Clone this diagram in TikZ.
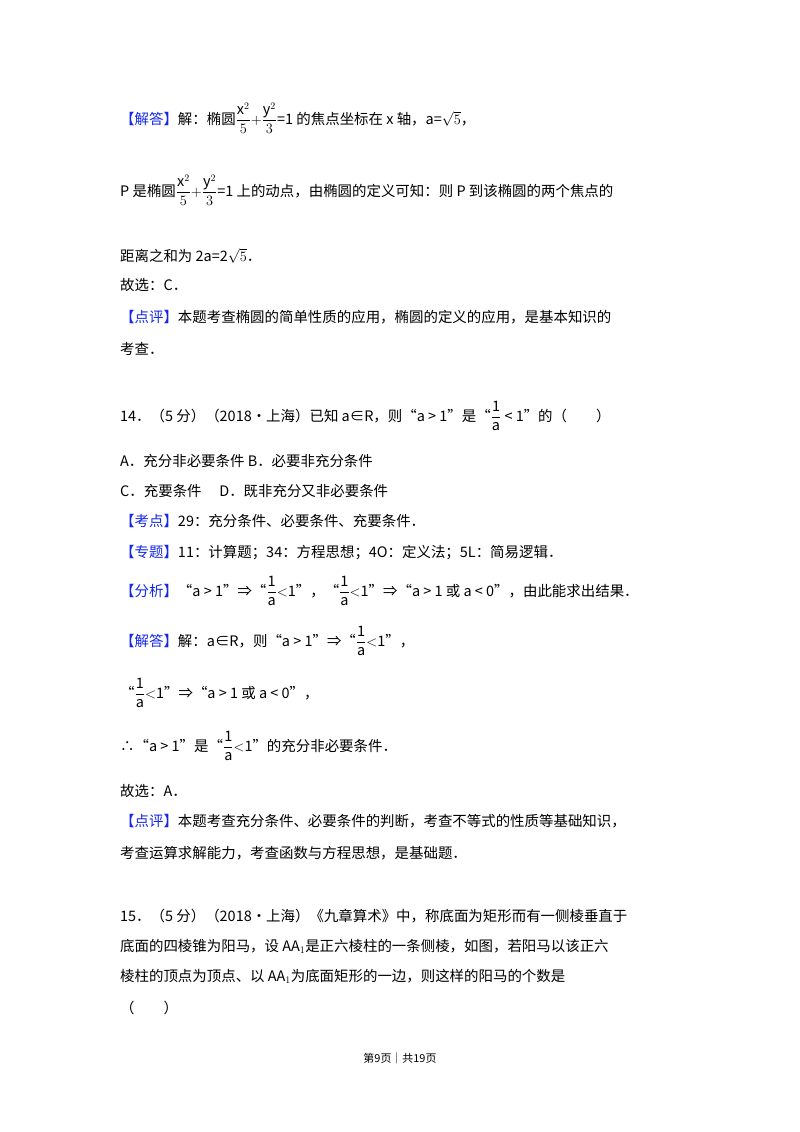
\documentclass[tikz,border=0pt]{standalone}
\usepackage{fontspec}
\setmainfont{Noto Sans CJK SC}
\definecolor{tagblue}{RGB}{20,40,230}
\newcommand{\tg}[1]{\textcolor{tagblue}{【#1】}}
\newcommand{\fr}[2]{$\displaystyle\frac{\mathrm{#1}}{\mathrm{#2}}$}
\begin{document}
\begin{tikzpicture}[x=1bp,y=-1bp,
  ln/.style={anchor=base west,inner sep=0pt,font=\fontsize{14.5}{17}\selectfont}]
\fill[white] (0,0) rectangle (800,1132);
\node[ln] (l1) at (120,124) {\tg{解答}解：椭圆$\displaystyle\frac{\mathrm{x}^2}{5}{+}\frac{\mathrm{y}^2}{3}$=1 的焦点坐标在 x 轴，a=$\sqrt5$，};
\node[ln] (l2) at (120,196) {P 是椭圆$\displaystyle\frac{\mathrm{x}^2}{5}{+}\frac{\mathrm{y}^2}{3}$=1 上的动点，由椭圆的定义可知：则 P 到该椭圆的两个焦点的};
\node[ln] (l3) at (120,261) {距离之和为 2a=2$\sqrt5$．};
\node[ln] (l4) at (120,290) {故选：C．};
\node[ln] (l5) at (120,322) {\tg{点评}本题考查椭圆的简单性质的应用，椭圆的定义的应用，是基本知识的};
\node[ln] (l6) at (120,354) {考查．};
\node[ln] (l7) at (120,421) {14．（5 分）（2018•上海）已知 a∈R，则“a > 1”是“\fr{1}{a} < 1”的（　　）};
\node[ln] (l8) at (120,466) {A．充分非必要条件 B．必要非充分条件};
\node[ln] (l9) at (120,496) {C．充要条件　 D．既非充分又非必要条件};
\node[ln] (l10) at (120,526) {\tg{考点}29：充分条件、必要条件、充要条件．};
\node[ln] (l11) at (120,557) {\tg{专题}11：计算题；34：方程思想；4O：定义法；5L：简易逻辑．};
\node[ln] (l12) at (120,596) {\tg{分析}“a > 1”⇒“\fr{1}{a}$<$1”，“\fr{1}{a}$<$1”⇒“a > 1 或 a < 0”，由此能求出结果．};
\node[ln] (l13) at (120,646) {\tg{解答}解：a∈R，则“a > 1”⇒“\fr{1}{a}$<$1”，};
\node[ln] (l14) at (120,698) {“\fr{1}{a}$<$1”⇒“a > 1 或 a < 0”，};
\node[ln] (l15) at (120,751) {∴“a > 1”是“\fr{1}{a}$<$1”的充分非必要条件．};
\node[ln] (l16) at (120,796) {故选：A．};
\node[ln] (l17) at (120,826) {\tg{点评}本题考查充分条件、必要条件的判断，考查不等式的性质等基础知识，};
\node[ln] (l18) at (120,858) {考查运算求解能力，考查函数与方程思想，是基础题．};
\node[ln] (l19) at (120,921) {15．（5 分）（2018•上海）《九章算术》中，称底面为矩形而有一侧棱垂直于};
\node[ln] (l20) at (120,951) {底面的四棱锥为阳马，设 AA$_1$是正六棱柱的一条侧棱，如图，若阳马以该正六};
\node[ln] (l21) at (120,981) {棱柱的顶点为顶点、以 AA$_1$为底面矩形的一边，则这样的阳马的个数是};
\node[ln] (l22) at (120,1013) {（　　）};
\node[anchor=base,inner sep=0pt,font=\fontsize{11}{13}\selectfont] (ft) at (400,1062) {第9页｜共19页};
\end{tikzpicture}
\end{document}
